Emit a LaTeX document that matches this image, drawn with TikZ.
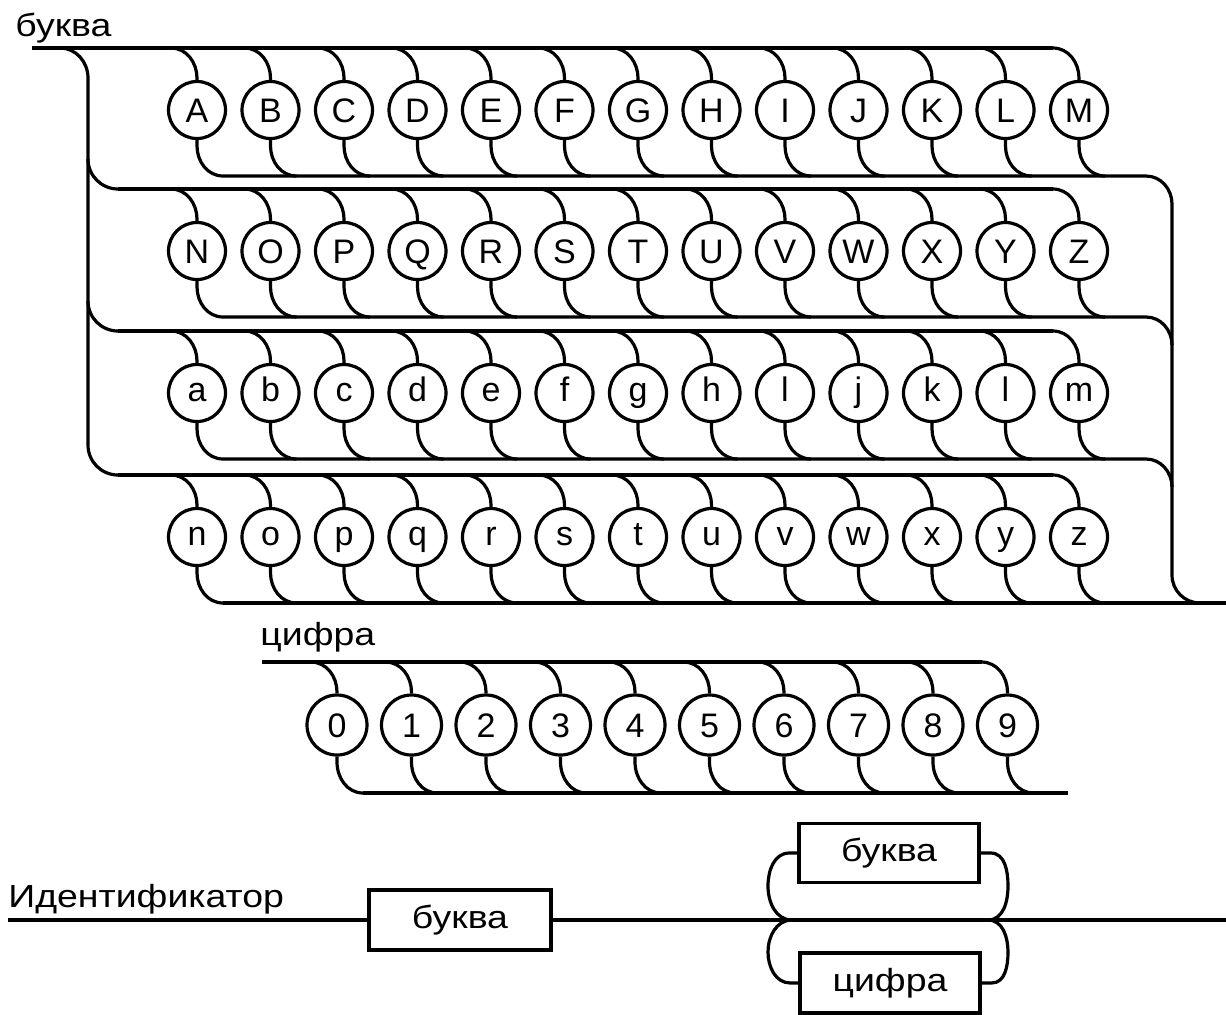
\documentclass[tikz,border=0pt]{standalone}
\usepackage{fontspec}
\setmainfont{Liberation Sans}
\newfontfamily\widefont{Liberation Sans}[FakeStretch=1.17]
\begin{document}
\begin{tikzpicture}[x=0.5pt,y=-0.5pt]
\tikzset{
  rail/.style={line width=1.6pt},
  lc/.style={circle, draw, line width=1.6pt, minimum size=28.5pt, inner sep=0pt,
             text depth=0pt, font=\fontsize{17}{17}\selectfont},
  dc/.style={circle, draw, line width=1.6pt, minimum size=30pt, inner sep=0pt,
             text height=12.2pt, text depth=0pt, font=\fontsize{17}{17}\selectfont},
  boxnode/.style={rectangle, draw, line width=1.6pt, minimum width=91pt, minimum height=30pt,
             inner sep=0pt, font=\widefont\fontsize{16}{16}\selectfont},
  lbl/.style={inner sep=0pt, anchor=base west, font=\widefont\fontsize{16}{16}\selectfont}
}
\useasboundingbox (0,0) rectangle (1226,1014);

% ---------- labels ----------
\node[lbl] (tb) at (15,36) {буква};
\node[lbl] (tc) at (260,645) {цифра};
\node[lbl] (tid) at (8,907) {Идентификатор};

% ---------- letter rows ----------
\foreach \row/\cy/\th/\letters in {
  1/110/12.2pt/{A,B,C,D,E,F,G,H,I,J,K,L,M},
  2/251/12.2pt/{N,O,P,Q,R,S,T,U,V,W,X,Y,Z},
  3/393/8.8pt/{a,b,c,d,e,f,g,h,l,j,k,l,m},
  4/537/8.8pt/{n,o,p,q,r,s,t,u,v,w,x,y,z}} {
  \foreach \ch [count=\i from 0] in \letters {
    \pgfmathsetmacro{\xx}{197+73.5*\i}
    \node[lc, text height=\th] (r\row c\i) at (\xx,\cy) {\ch};
    \draw[rail] (\xx-26,\cy-62) to[out=0,in=90] (\xx,\cy-32) -- (r\row c\i.north);
    \draw[rail] (r\row c\i.south) -- (\xx,\cy+36) to[out=-90,in=180] (\xx+26,\cy+66);
  }
}

% top rails
\coordinate (start) at (32,48);
\draw[rail] (start) -- (1053,48);
\draw[rail] (118,189) -- (1053,189);
\draw[rail] (118,331) -- (1053,331);
\draw[rail] (118,475) -- (1053,475);
% left trunk
\draw[rail] (60,48) to[out=0,in=90] (88,78) -- (88,445) to[out=-90,in=180] (118,475);
\draw[rail] (88,159) to[out=-90,in=180] (118,189);
\draw[rail] (88,301) to[out=-90,in=180] (118,331);
% bottom rails
\draw[rail] (223,176) -- (1146,176) to[out=0,in=90] (1172,204);
\draw[rail] (223,317) -- (1146,317) to[out=0,in=90] (1172,345);
\draw[rail] (223,459) -- (1146,459) to[out=0,in=90] (1172,487);
\coordinate (exitL) at (1226,603);
\draw[rail] (223,603) -- (exitL);
% right trunk
\draw[rail] (1172,204) -- (1172,575) to[out=-90,in=180] (1200,603);

% ---------- digit row ----------
\foreach \ch [count=\i from 0] in {0,1,2,3,4,5,6,7,8,9} {
  \pgfmathsetmacro{\xx}{337+74.5*\i}
  \node[dc] (d\i) at (\xx,725) {\ch};
  \draw[rail] (\xx-26,662) to[out=0,in=90] (\xx,692) -- (d\i.north);
  \draw[rail] (d\i.south) -- (\xx,762) to[out=-90,in=180] (\xx+26,793);
}
\draw[rail] (262,662) -- (981.5,662);
\draw[rail] (363,793) -- (1068,793);

% ---------- identifier ----------
\coordinate (idin) at (8,920);
\coordinate (idout) at (1226,920);
\node[boxnode] (b1) at (460,920) {буква};
\node[boxnode, minimum width=90pt, minimum height=29.5pt] (bu) at (889,853) {буква};
\node[boxnode, minimum width=90pt] (bd) at (890,983) {цифра};
\draw[rail] (idin) -- (b1.west);
\draw[rail] (b1.east) -- (idout);
\draw[rail] (bu.west) -- ++(-8,0) to[out=180,in=90] (768,886) to[out=-90,in=180] (792,920);
\draw[rail] (bu.east) -- ++(10,0) to[out=0,in=90] (1008,886) to[out=-90,in=0] (988,920);
\draw[rail] (bd.west) -- ++(-8,0) to[out=180,in=-90] (768,952) to[out=90,in=180] (792,920);
\draw[rail] (bd.east) -- ++(10,0) to[out=0,in=-90] (1008,952) to[out=90,in=0] (988,920);
\end{tikzpicture}
\end{document}
